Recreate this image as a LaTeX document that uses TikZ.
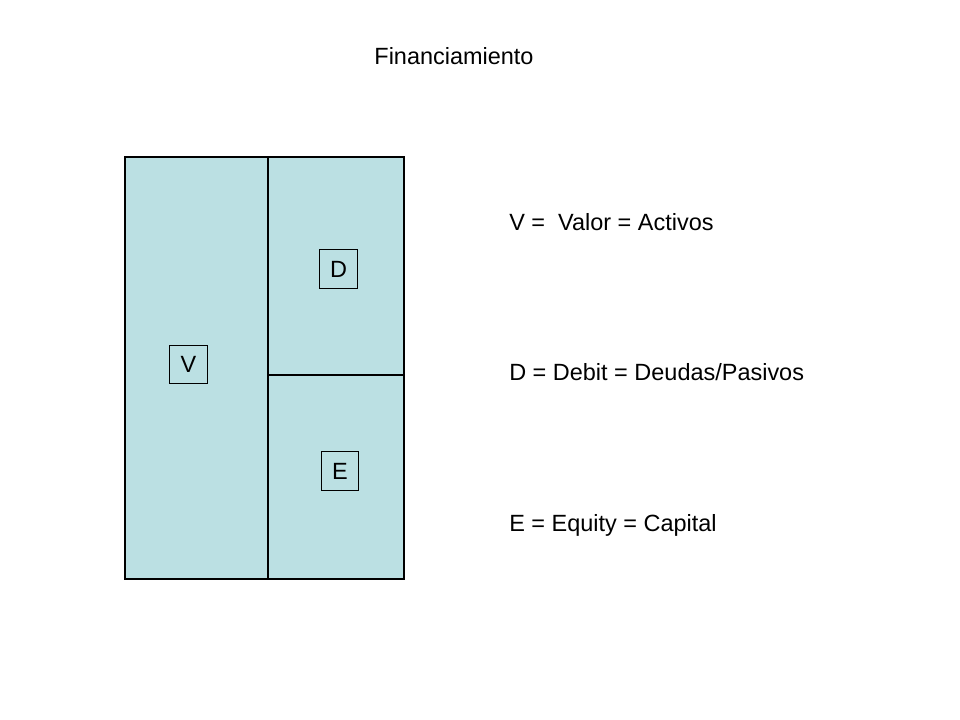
\documentclass[tikz,border=0pt]{standalone}
\usepackage{fontspec}
\setmainfont{Liberation Sans}
\usetikzlibrary{positioning}
\definecolor{cFill}{HTML}{BBE0E3}
\definecolor{cLine}{HTML}{000000}

\begin{document}
\begin{tikzpicture}[
  x=0.75pt,y=-0.75pt,font=\fontsize{17.6}{21}\selectfont,
  part/.style={fill=cFill,draw=cLine,line width=1pt},
  tag/.style={rectangle,draw=cLine,line width=0.7pt,inner sep=0pt,
              minimum width=28pt,minimum height=29pt},
  txt/.style={anchor=base west,inner sep=0pt}
]
\useasboundingbox (0,0) rectangle (960,720);

%======================= TITLE =======================
\node[anchor=base,inner sep=0pt] (title) at (454,65) {Financiamiento};

%======================= BALANCE BLOCK =======================
\draw[part] (125,157) rectangle (268,579);
\draw[part] (268,157) rectangle (404,375);
\draw[part] (268,375) rectangle (404,579);

\node[tag] (v) at (188.5,364.5) {V};
\node[tag] (d) at (338.5,269)   {D};
\node[tag] (e) at (340,471)     {E};

%======================= LEGEND =======================
\node[txt] (lv) at (509,231) {V = \ Valor = Activos};
\node[txt] (ld) at (509,380) {D = Debit = Deudas/Pasivos};
\node[txt] (le) at (509,531) {E = Equity = Capital};

\end{tikzpicture}
\end{document}
